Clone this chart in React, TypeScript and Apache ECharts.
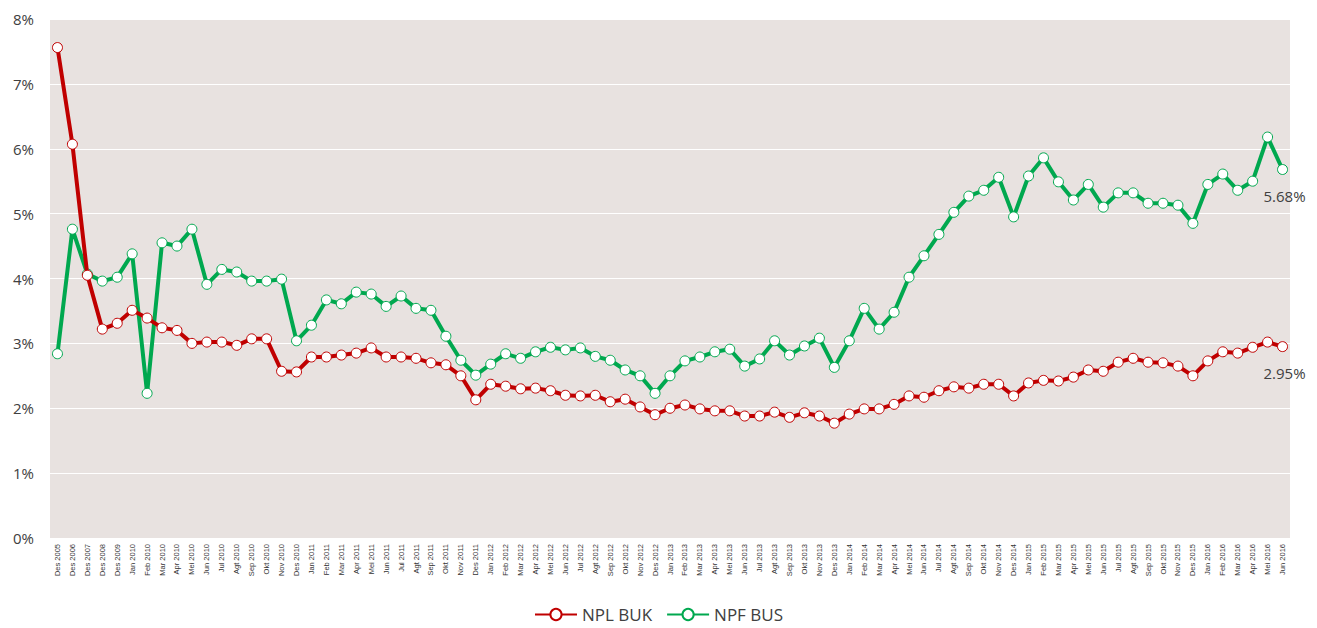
import React, { useEffect, useRef } from "react";
import * as echarts from "echarts";

const categories = [
  "Des 2005", "Des 2006", "Des 2007", "Des 2008", "Des 2009",
  "Jan 2010", "Feb 2010", "Mar 2010", "Apr 2010", "Mei 2010", "Jun 2010", "Jul 2010", "Agt 2010", "Sep 2010", "Okt 2010", "Nov 2010", "Des 2010",
  "Jan 2011", "Feb 2011", "Mar 2011", "Apr 2011", "Mei 2011", "Jun 2011", "Jul 2011", "Agt 2011", "Sep 2011", "Okt 2011", "Nov 2011", "Des 2011",
  "Jan 2012", "Feb 2012", "Mar 2012", "Apr 2012", "Mei 2012", "Jun 2012", "Jul 2012", "Agt 2012", "Sep 2012", "Okt 2012", "Nov 2012", "Des 2012",
  "Jan 2013", "Feb 2013", "Mar 2013", "Apr 2013", "Mei 2013", "Jun 2013", "Jul 2013", "Agt 2013", "Sep 2013", "Okt 2013", "Nov 2013", "Des 2013",
  "Jan 2014", "Feb 2014", "Mar 2014", "Apr 2014", "Mei 2014", "Jun 2014", "Jul 2014", "Agt 2014", "Sep 2014", "Okt 2014", "Nov 2014", "Des 2014",
  "Jan 2015", "Feb 2015", "Mar 2015", "Apr 2015", "Mei 2015", "Jun 2015", "Jul 2015", "Agt 2015", "Sep 2015", "Okt 2015", "Nov 2015", "Des 2015",
  "Jan 2016", "Feb 2016", "Mar 2016", "Apr 2016", "Mei 2016", "Jun 2016",
];

const nplBuk = [
  7.56, 6.07, 4.05, 3.22, 3.31,
  3.51, 3.39, 3.24, 3.20, 3.00, 3.02, 3.02, 2.97, 3.07, 3.07, 2.57, 2.56,
  2.79, 2.79, 2.82, 2.85, 2.93, 2.79, 2.79, 2.77, 2.70, 2.67, 2.50, 2.13,
  2.37, 2.34, 2.30, 2.31, 2.27, 2.20, 2.19, 2.20, 2.10, 2.14, 2.02, 1.90,
  2.00, 2.05, 1.99, 1.96, 1.96, 1.88, 1.88, 1.94, 1.86, 1.93, 1.88, 1.77,
  1.91, 1.99, 1.99, 2.06, 2.19, 2.17, 2.27, 2.33, 2.31, 2.37, 2.37, 2.19,
  2.39, 2.43, 2.42, 2.48, 2.59, 2.57, 2.71, 2.77, 2.71, 2.70, 2.65, 2.50,
  2.73, 2.87, 2.85, 2.94, 3.02, 2.95,
];

const npfBus = [
  2.84, 4.76, 4.07, 3.96, 4.02,
  4.38, 2.23, 4.55, 4.50, 4.76, 3.91, 4.14, 4.10, 3.96, 3.96, 3.99, 3.04,
  3.28, 3.67, 3.61, 3.79, 3.76, 3.57, 3.73, 3.54, 3.51, 3.11, 2.74, 2.51,
  2.68, 2.84, 2.77, 2.87, 2.94, 2.90, 2.93, 2.80, 2.74, 2.59, 2.50, 2.23,
  2.50, 2.73, 2.79, 2.87, 2.91, 2.65, 2.76, 3.04, 2.82, 2.96, 3.08, 2.63,
  3.04, 3.54, 3.22, 3.48, 4.02, 4.35, 4.68, 5.02, 5.27, 5.36, 5.56, 4.95,
  5.58, 5.86, 5.49, 5.21, 5.45, 5.10, 5.32, 5.32, 5.16, 5.16, 5.13, 4.85,
  5.45, 5.61, 5.36, 5.50, 6.18, 5.68,
];

const yTicks = [0, 1, 2, 3, 4, 5, 6, 7, 8];

const RED = "#c00000";
const GREEN = "#00a84f";

function withEndLabel(values: number[]) {
  return values.map((v, i) =>
    i === values.length - 1
      ? {
          value: v,
          label: {
            show: true,
            position: "bottom",
            distance: 13,
            offset: [2, 0],
            formatter: (p: any) => p.value.toFixed(2) + "%",
            color: "#404040",
            fontSize: 15,
            fontFamily: "Open Sans, sans-serif",
          },
        }
      : v
  );
}

export default function App() {
  const ref = useRef<HTMLDivElement>(null);
  useEffect(() => {
    document.body.style.margin = "0";
    if (!ref.current) return;
    const chart = echarts.init(ref.current, undefined, { renderer: "svg" });
    chart.setOption({
      animation: false,
      backgroundColor: "#ffffff",
      grid: {
        left: 50,
        right: 27,
        top: 19,
        bottom: 90,
        show: true,
        backgroundColor: "#e8e2e0",
        borderWidth: 0,
      },
      xAxis: {
        type: "category",
        data: categories,
        boundaryGap: true,
        axisLine: { show: false },
        axisTick: { show: false },
        axisLabel: {
          interval: 0,
          rotate: 90,
          fontSize: 7.5,
          color: "#333333",
          fontFamily: "Liberation Sans Narrow, Liberation Sans, sans-serif",
          margin: 6,
        },
      },
      yAxis: {
        type: "value",
        min: yTicks[0],
        max: yTicks[yTicks.length - 1],
        interval: 1,
        axisLine: { show: false },
        axisTick: { show: false },
        axisLabel: {
          formatter: (v: number) => v + "%",
          fontSize: 15,
          color: "#404040",
          fontFamily: "Open Sans, sans-serif",
          margin: 16,
        },
        splitLine: { lineStyle: { color: "#ffffff", width: 1 } },
      },
      legend: {
        bottom: 0,
        left: "center",
        itemWidth: 42,
        itemHeight: 14,
        itemGap: 14,
        textStyle: { fontSize: 17, color: "#404040", fontFamily: "Open Sans, sans-serif" },
        data: ["NPL BUK", "NPF BUS"],
      },
      series: [
        {
          name: "NPL BUK",
          type: "line",
          data: withEndLabel(nplBuk),
          symbol: "circle",
          symbolSize: 10,
          showAllSymbol: true,
          lineStyle: { color: RED, width: 4 },
          itemStyle: { color: "#ffffff", borderColor: RED, borderWidth: 1 },
          z: 3,
        },
        {
          name: "NPF BUS",
          type: "line",
          data: withEndLabel(npfBus),
          symbol: "circle",
          symbolSize: 10,
          showAllSymbol: true,
          lineStyle: { color: GREEN, width: 4 },
          itemStyle: { color: "#ffffff", borderColor: GREEN, borderWidth: 1 },
          z: 2,
        },
      ],
    });
    return () => chart.dispose();
  }, []);
  return <div ref={ref} style={{ width: 1317, height: 628 }} />;
}
